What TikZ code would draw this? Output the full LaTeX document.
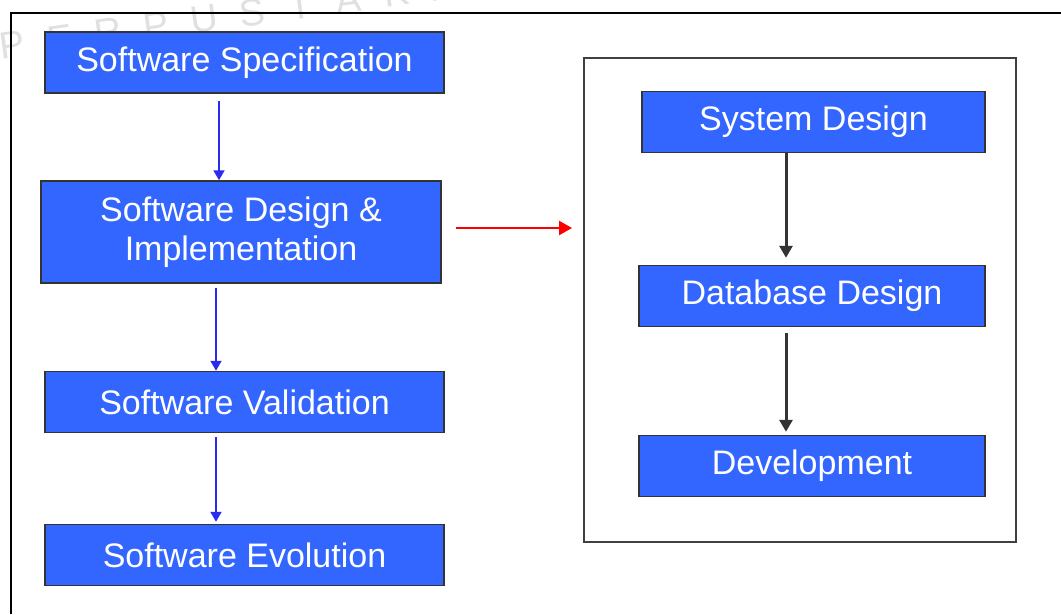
\documentclass[tikz,border=0pt]{standalone}
\usepackage{fontspec}
\setmainfont{Liberation Sans}
\usetikzlibrary{arrows.meta}
\definecolor{stageblue}{HTML}{3366FF}
\definecolor{flowblue}{HTML}{2B2BF0}
\begin{document}
\begin{tikzpicture}[x=1pt,y=-1pt,
    stage/.style={draw=black!80,line width=1.5pt,fill=stageblue,text=white,
      minimum width=399pt,minimum height=61pt,inner sep=0pt,align=center,
      font=\fontsize{34}{39}\selectfont},
    blueflow/.style={draw=flowblue,line width=2pt,-{Triangle[width=11pt,length=10pt]}},
    darkflow/.style={draw=black!80,line width=3pt,-{Triangle[width=13pt,length=12pt]}},
    redflow/.style={draw=red,line width=2.5pt,-{Triangle[width=14pt,length=13pt]}}]
  \useasboundingbox (0,0) rectangle (1061,614);
  % watermark
  \foreach \c [count=\i] in {P,E,R,P,U,S,T,A,K,A,A,N}
    \node[rotate=8,text=black!12,font=\fontsize{38}{40}\selectfont]
      (mark\i) at ({12+48*(\i-1)},{45-6.5*(\i-1)}) {\c};
  % outer frame
  \draw[line width=2pt] (11,614) -- (11,13) -- (1061,13);
  % left column
  \node[stage] (spec) at (244.5,62.5) {Software Specification};
  \node[stage,minimum width=400pt,minimum height=102pt] (impl) at (241,232)
    {Software Design \&\\Implementation};
  \node[stage] (valid) at (244.5,402) {Software Validation};
  \node[stage] (evol) at (244.5,555) {Software Evolution};
  % right box
  \node[draw=black!75,line width=2pt,minimum width=432pt,minimum height=484pt]
    (zoombox) at (800,300) {};
  \node[stage,minimum width=343pt] (sysd) at (813.5,122) {System Design};
  \node[stage,minimum width=346pt] (dbd) at (812,296) {Database Design};
  \node[stage,minimum width=346pt] (dev) at (812,466) {Development};
  % arrows
  \draw[blueflow,shorten <=7pt] ([xshift=-25.5pt]spec.south) -- ([xshift=-25.5pt,yshift=0pt]spec.south |- impl.north);
  \draw[blueflow,shorten <=4pt] ([xshift=-25pt]impl.south) -- ([xshift=-25pt]impl.south |- valid.north);
  \draw[blueflow,shorten <=4pt,shorten >=2pt] ([xshift=-28.5pt]valid.south) -- ([xshift=-28.5pt]valid.south |- evol.north);
  \coordinate (redtail) at ([xshift=14pt,yshift=4pt]impl.east);
  \draw[redflow,shorten >=11pt] (redtail) -- (redtail -| zoombox.west);
  \draw[darkflow,shorten >=7pt] ([xshift=-27.5pt]sysd.south) -- ([xshift=-27.5pt]sysd.south |- dbd.north);
  \draw[darkflow,shorten <=6pt,shorten >=3pt] ([xshift=-26pt]dbd.south) -- ([xshift=-26pt]dbd.south |- dev.north);
\end{tikzpicture}
\end{document}
